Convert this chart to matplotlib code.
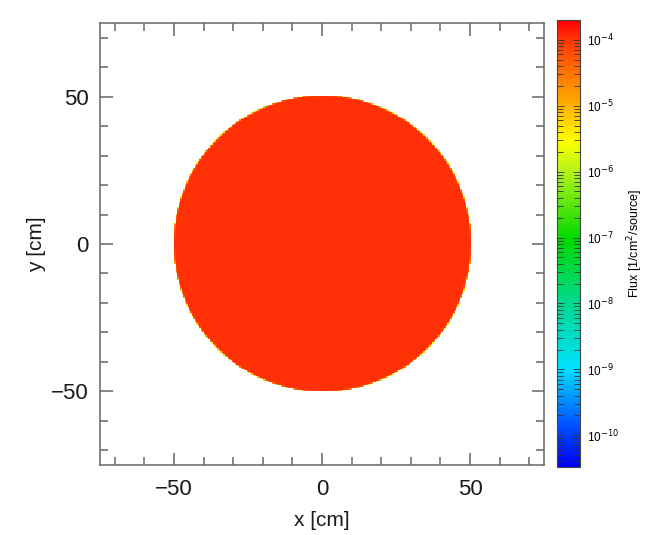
import numpy as np
import matplotlib
matplotlib.use("Agg")
import matplotlib.pyplot as plt
from matplotlib.colors import LinearSegmentedColormap, LogNorm
from matplotlib.ticker import LogLocator, NullFormatter, MultipleLocator

plt.rcParams['font.family'] = ['Liberation Sans', 'DejaVu Sans']

# mesh tally: flux in a disk source, 1/cm^2/source
x_range = [-75, 75]
y_range = [-75, 75]
n_bins = 300
disk_radius = 50.0
disk_flux = 1.05e-4
flux_min = 3.3e-11
flux_max = 2.0e-4
cbar_ticks = [1e-10, 1e-9, 1e-8, 1e-7, 1e-6, 1e-5, 1e-4]

# colour nodes (position on bar, rgb)
cmap_pos = [0.0, 0.10, 0.22, 0.37, 0.51, 0.66, 0.73, 0.82, 0.955, 1.0]
cmap_rgb = [(0.0, 0.0, 0.95), (0.0, 0.35, 1.0), (0.0, 0.88, 1.0),
            (0.0, 0.85, 0.55), (0.0, 0.85, 0.0), (0.7, 0.95, 0.1),
            (1.0, 1.0, 0.0), (1.0, 0.66, 0.0), (1.0, 0.22, 0.03),
            (1.0, 0.0, 0.0)]
cmap = LinearSegmentedColormap.from_list('flux', list(zip(cmap_pos, cmap_rgb)))

# bin edges, and fraction of each bin inside the disk (sub-sampled)
edges_x = np.linspace(x_range[0], x_range[1], n_bins + 1)
edges_y = np.linspace(y_range[0], y_range[1], n_bins + 1)
sub = 10
fx = np.linspace(x_range[0], x_range[1], n_bins * sub + 1)
cx = 0.5 * (fx[1:] + fx[:-1])
inside = (cx[None, :]**2 + cx[:, None]**2 <= disk_radius**2)
frac = inside.reshape(n_bins, sub, n_bins, sub).mean(axis=(1, 3))
flux = np.ma.masked_less_equal(frac * disk_flux, 0)

fig = plt.figure(figsize=(6.48, 5.35), dpi=100)
ax = fig.add_axes([0.1543, 0.1308, 0.6852, 0.8262])
cax = fig.add_axes([0.8596, 0.1271, 0.0355, 0.8355])

norm = LogNorm(vmin=flux_min, vmax=flux_max)
img = ax.imshow(flux, cmap=cmap, norm=norm, origin='lower',
                extent=[edges_x[0], edges_x[-1], edges_y[0], edges_y[-1]],
                interpolation='nearest', aspect='auto')

ax.set_xlim(x_range)
ax.set_ylim(y_range)
ax.xaxis.set_major_locator(MultipleLocator(50))
ax.yaxis.set_major_locator(MultipleLocator(50))
ax.xaxis.set_minor_locator(MultipleLocator(10))
ax.yaxis.set_minor_locator(MultipleLocator(10))
grey = '#666666'
for s in ax.spines.values():
    s.set_color(grey)
    s.set_linewidth(1.1)
ax.tick_params(which='both', direction='in', top=True, right=True,
               color=grey, width=1.1, labelsize=16, labelcolor='#1a1a1a')
ax.tick_params(which='major', length=9)
ax.tick_params(which='minor', length=5.5)
ax.tick_params(axis='x', pad=10)
ax.tick_params(axis='y', pad=8)
ax.set_xlabel('x [cm]', fontsize=15, labelpad=8, color='#1a1a1a')
ax.set_ylabel('y [cm]', fontsize=15, labelpad=4, color='#1a1a1a')

cb = fig.colorbar(img, cax=cax)
cb.outline.set_edgecolor('#444444')
cb.outline.set_linewidth(0.8)
cax.yaxis.set_minor_locator(LogLocator(base=10, subs=np.arange(2, 10), numticks=20))
cax.yaxis.set_minor_formatter(NullFormatter())
cax.set_yticks(cbar_ticks)
cax.set_yticklabels(['10$^{%d}$' % int(np.log10(t)) for t in cbar_ticks])
cax.tick_params(which='both', direction='in', left=True, right=True,
                color='#333333', width=0.6, labelsize=8.5, pad=5)
cax.tick_params(which='major', length=5)
cax.tick_params(which='minor', length=4)
cb.set_label('Flux [1/cm$^2$/source]', fontsize=9, labelpad=5)

fig.savefig('out.png', dpi=100)
